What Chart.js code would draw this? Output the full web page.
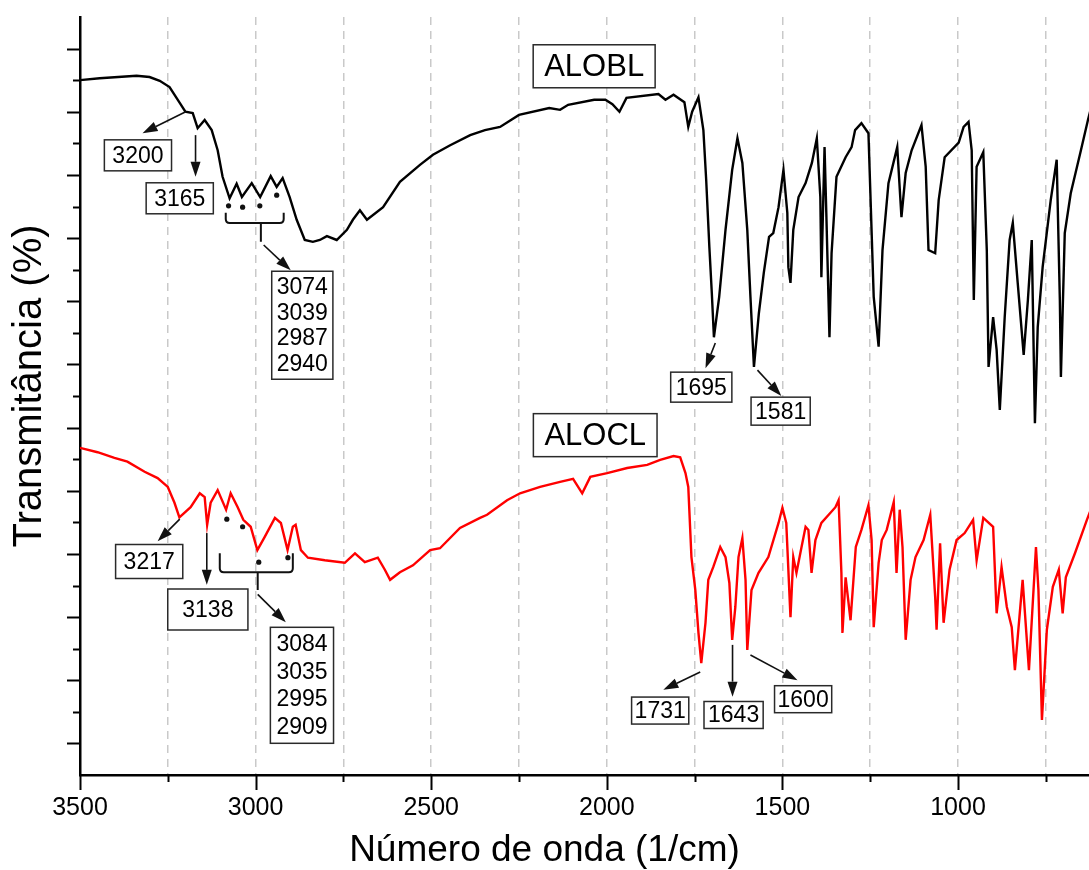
<!DOCTYPE html>
<html>
<head>
<meta charset="utf-8">
<script src="https://cdn.jsdelivr.net/npm/chart.js@4/dist/chart.umd.min.js"></script>
<style>
  html, body { margin: 0; padding: 0; background: #ffffff; }
  #wrap { width: 1089px; height: 870px; position: relative; }
</style>
</head>
<body>
<div id="wrap"><canvas id="c" width="1089" height="870"></canvas></div>
<script>
// ---------------- DATA ----------------
const xTickValues = [3500, 3250, 3000, 2750, 2500, 2250, 2000, 1750, 1500, 1250, 1000, 750];
const xTickLabels = ['3500', '', '3000', '', '2500', '', '2000', '', '1500', '', '1000', ''];
const yTickValues = [5, 10, 15, 20, 25, 30, 35, 40, 45, 50, 55, 60, 65, 70, 75, 80, 85, 90, 95, 100, 105, 110, 115];

// ALOBL (black) spectrum: wavenumber (1/cm) and transmittance (arbitrary offset units)
const aloblWavenumber = [
  3500, 3444, 3339, 3302, 3273, 3245, 3216, 3200, 3179, 3165,
  3145, 3125, 3108, 3094, 3074, 3054, 3039, 3011, 2987, 2957,
  2940, 2923, 2903, 2883, 2860, 2837, 2817, 2797, 2769, 2740,
  2723, 2703, 2683, 2637, 2589, 2532, 2495, 2446, 2389, 2347,
  2304, 2250, 2164, 2133, 2110, 2036, 2004, 1984, 1964, 1944,
  1853, 1833, 1810, 1779, 1768, 1757, 1739, 1725, 1717, 1708,
  1701, 1695, 1680, 1662, 1643, 1628, 1614, 1600, 1591, 1581,
  1567, 1553, 1538, 1526, 1511, 1497, 1486, 1483, 1477, 1469,
  1454, 1434, 1416, 1402, 1392, 1389, 1380, 1375, 1366, 1360,
  1346, 1320, 1303, 1293, 1275, 1255, 1240, 1226, 1215, 1198,
  1173, 1161, 1149, 1132, 1104, 1092, 1084, 1065, 1055, 1038,
  998, 984, 970, 961, 955, 947, 928, 918, 913, 900,
  890, 881, 867, 853, 844, 830, 813, 801, 790, 781,
  773, 759, 736, 719, 710, 707, 696, 679, 650, 630,
  615
];
const aloblTransmittance = [
  110.0, 110.3, 110.7, 110.5, 109.9, 108.9, 106.4, 105.0, 104.8, 102.4,
  103.7, 102.1, 98.9, 94.7, 91.3, 93.6, 91.5, 93.7, 91.5, 94.8,
  93.1, 94.5, 91.5, 87.9, 84.7, 84.4, 84.7, 85.3, 84.7, 86.3,
  87.9, 89.4, 87.9, 89.9, 93.9, 96.6, 98.2, 99.7, 101.3, 102.1,
  102.6, 104.5, 105.6, 105.3, 106.1, 106.9, 106.9, 106.2, 105.0, 107.2,
  107.8, 106.9, 107.7, 106.5, 102.6, 105.0, 107.3, 102.1, 94.2, 83.6,
  76.3, 69.3, 75.7, 86.3, 95.8, 100.8, 96.9, 86.3, 75.7, 64.6,
  73.1, 79.5, 85.2, 85.8, 89.9, 95.8, 89.0, 80.4, 77.9, 86.3,
  91.5, 93.7, 96.9, 100.8, 91.5, 78.8, 99.4, 89.0, 69.3, 82.6,
  94.7, 97.8, 99.4, 102.1, 103.2, 101.6, 75.7, 67.8, 83.1, 93.7,
  99.4, 88.3, 95.3, 98.9, 102.9, 96.3, 83.1, 82.6, 91.0, 97.8,
  100.1, 102.6, 103.4, 98.9, 75.2, 96.3, 98.6, 83.1, 64.6, 72.5,
  67.3, 57.8, 72.5, 84.7, 87.4, 77.9, 66.5, 75.2, 84.7, 55.7,
  70.9, 80.4, 91.0, 97.4, 75.2, 63.0, 85.8, 92.1, 98.9, 103.7,
  107.0
];

// ALOCL (red) spectrum
const aloclWavenumber = [
  3500, 3450, 3402, 3365, 3316, 3279, 3250, 3231, 3217, 3185,
  3159, 3145, 3138, 3128, 3108, 3084, 3071, 3051, 3035, 3014,
  2995, 2974, 2945, 2928, 2909, 2894, 2886, 2871, 2851, 2803,
  2746, 2717, 2689, 2652, 2632, 2617, 2589, 2552, 2503, 2475,
  2418, 2361, 2341, 2284, 2247, 2190, 2133, 2096, 2070, 2047,
  1999, 1942, 1885, 1848, 1810, 1791, 1776, 1768, 1759, 1748,
  1739, 1731, 1719, 1711, 1697, 1677, 1662, 1651, 1643, 1634,
  1625, 1614, 1605, 1600, 1588, 1568, 1540, 1511, 1500, 1489,
  1477, 1469, 1460, 1449, 1434, 1426, 1417, 1406, 1389, 1349,
  1340, 1332, 1329, 1320, 1306, 1291, 1275, 1255, 1246, 1240,
  1226, 1217, 1203, 1183, 1175, 1166, 1158, 1149, 1135, 1121,
  1098, 1079, 1065, 1061, 1051, 1041, 1024, 1004, 981, 957,
  947, 928, 900, 890, 876, 861, 847, 838, 816, 798,
  778, 771, 761, 747, 730, 713, 702, 693, 667, 633,
  615
];
const aloclTransmittance = [
  51.8, 51.1, 50.2, 49.6, 48.0, 47.0, 45.6, 43.1, 40.8, 42.4,
  44.6, 44.0, 39.6, 43.1, 45.1, 42.0, 44.6, 42.4, 40.4, 39.3,
  35.6, 37.7, 40.7, 39.9, 35.6, 39.3, 39.6, 35.6, 34.4, 34.0,
  33.6, 35.1, 33.7, 34.4, 32.5, 30.9, 32.1, 33.2, 35.6, 35.9,
  39.1, 40.7, 41.2, 43.5, 44.6, 45.6, 46.4, 46.9, 44.6, 47.2,
  47.8, 48.6, 49.1, 49.9, 50.5, 50.3, 47.8, 45.6, 34.5, 29.3,
  22.5, 17.7, 24.1, 30.9, 32.9, 36.1, 34.5, 30.4, 21.4, 26.6,
  34.5, 37.5, 30.9, 19.8, 29.3, 32.0, 34.5, 39.9, 42.3, 39.9,
  25.0, 34.5, 32.0, 35.1, 39.3, 38.8, 32.0, 37.2, 39.9, 42.4,
  43.5, 32.0, 22.5, 31.3, 24.5, 36.1, 38.8, 42.7, 37.2, 23.4,
  33.6, 37.2, 38.8, 43.2, 32.0, 42.0, 36.1, 21.4, 30.9, 34.5,
  37.2, 41.2, 28.2, 23.0, 36.7, 24.1, 32.5, 37.2, 38.3, 40.4,
  34.0, 40.7, 39.3, 25.6, 32.9, 26.6, 23.4, 16.6, 30.9, 16.6,
  36.1, 29.3, 8.7, 23.0, 29.8, 32.5, 25.6, 31.3, 35.1, 40.4,
  43.0
];

// Peak labels (text) and their anchor positions in data units
const noteTexts = [
  ['ALOBL'], ['ALOCL'],
  ['3200'], ['3165'], ['3074', '3039', '2987', '2940'], ['1695'], ['1581'],
  ['3217'], ['3138'], ['3084', '3035', '2995', '2909'], ['1731'], ['1643'], ['1600']
];
const noteWavenumber = [2036, 2033, 3335, 3216, 2867, 1731, 1505, 3303, 3136, 2868, 1848, 1639, 1441];
const noteTransmittance = [112.2, 53.8, 98.1, 91.3, 71.2, 61.4, 57.6, 33.8, 26.2, 14.2, 10.2, 9.5, 12.0];

// Arrows: from (wn, T) to (wn, T)
const arrowFromWavenumber = [3199, 3171, 2977, 1691, 1571, 3216, 3139, 2994, 1734, 1642, 1591];
const arrowFromTransmittance = [105.0, 101.3, 83.9, 68.4, 64.1, 40.5, 38.3, 28.6, 16.3, 20.6, 19.0];
const arrowToWavenumber = [3322, 3171, 2900, 1719, 1503, 3279, 3139, 2914, 1839, 1642, 1457];
const arrowToTransmittance = [101.6, 94.7, 79.9, 64.4, 60.0, 37.0, 30.1, 24.2, 13.5, 12.4, 15.0];

// Marker dots under the grouped C-H bands
const dotWavenumber = [3077, 3037, 2988, 2940, 3082, 3037, 2991, 2908];
const dotTransmittance = [90.1, 89.9, 90.1, 91.8, 40.5, 39.3, 33.7, 34.4];

// Braces grouping the bands: left, right, stem wavenumber; top, bottom, stem-end transmittance
const braceLeft = [3085, 3102];
const braceRight = [2920, 2894];
const braceStem = [2985, 2994];
const braceTop = [89.0, 35.1];
const braceBottom = [87.4, 32.1];
const braceStemEnd = [84.4, 29.3];

// ---------------- STYLE ----------------
const FONT = "'Liberation Sans', Arial, Helvetica, sans-serif";
Chart.defaults.font.family = FONT;
Chart.defaults.color = '#000';

const noteStyle = [
  {size: 31, padX: 11, padY: 6, lh: 31},
  {size: 31, padX: 11, padY: 6, lh: 31},
  {size: 23, padX: 8, padY: 2.5, lh: 26},
  {size: 23, padX: 8, padY: 2.5, lh: 26},
  {size: 23, padX: 5, padY: 3, lh: 25.5},
  {size: 23, padX: 5, padY: 2, lh: 26},
  {size: 23, padX: 4, padY: 1, lh: 26},
  {size: 23, padX: 8, padY: 4, lh: 26},
  {size: 23, padX: 14.5, padY: 7.5, lh: 26},
  {size: 23, padX: 6, padY: 3, lh: 27.5},
  {size: 23, padX: 3, padY: 0.5, lh: 26},
  {size: 23, padX: 4, padY: 0.5, lh: 26},
  {size: 23, padX: 3, padY: 0.5, lh: 26}
];

const annotationPlugin = {
  id: 'ftirAnnotations',
  afterDatasetsDraw(chart) {
    const ctx = chart.ctx;
    const xs = chart.scales.x, ys = chart.scales.y;
    const X = v => xs.getPixelForValue(v);
    const Y = v => ys.getPixelForValue(v);
    ctx.save();

    // boxes with text
    noteTexts.forEach((lines, i) => {
      const st = noteStyle[i];
      ctx.font = st.size + 'px ' + FONT;
      const w = Math.max(...lines.map(l => ctx.measureText(l).width)) + 2 * st.padX;
      const h = lines.length * st.lh + 2 * st.padY;
      const cx = X(noteWavenumber[i]), cy = Y(noteTransmittance[i]);
      const x0 = cx - w / 2, y0 = cy - h / 2;
      ctx.fillStyle = '#fff';
      ctx.fillRect(x0, y0, w, h);
      ctx.strokeStyle = '#2a2a2a';
      ctx.lineWidth = 1.5;
      ctx.strokeRect(x0, y0, w, h);
      ctx.fillStyle = '#000';
      ctx.textAlign = 'center';
      ctx.textBaseline = 'middle';
      lines.forEach((l, k) => {
        ctx.fillText(l, cx, y0 + st.padY + st.lh * (k + 0.5) + 1);
      });
    });

    // arrows
    ctx.strokeStyle = '#111';
    ctx.fillStyle = '#111';
    ctx.lineWidth = 1.6;
    arrowFromWavenumber.forEach((wn, i) => {
      const x1 = X(wn), y1 = Y(arrowFromTransmittance[i]);
      const x2 = X(arrowToWavenumber[i]), y2 = Y(arrowToTransmittance[i]);
      const ang = Math.atan2(y2 - y1, x2 - x1);
      const L = 15, W = 5;
      const bx = x2 - L * Math.cos(ang), by = y2 - L * Math.sin(ang);
      ctx.beginPath();
      ctx.moveTo(x1, y1);
      ctx.lineTo(bx, by);
      ctx.stroke();
      ctx.beginPath();
      ctx.moveTo(x2, y2);
      ctx.lineTo(bx + W * Math.sin(ang), by - W * Math.cos(ang));
      ctx.lineTo(bx - W * Math.sin(ang), by + W * Math.cos(ang));
      ctx.closePath();
      ctx.fill();
    });

    // dots
    dotWavenumber.forEach((wn, i) => {
      ctx.beginPath();
      ctx.arc(X(wn), Y(dotTransmittance[i]), 2.6, 0, Math.PI * 2);
      ctx.fill();
    });

    // braces
    ctx.lineWidth = 2;
    braceLeft.forEach((l, i) => {
      const xl = X(l), xr = X(braceRight[i]), xm = X(braceStem[i]);
      const yt = Y(braceTop[i]), yb = Y(braceBottom[i]), ye = Y(braceStemEnd[i]);
      const r = 4;
      ctx.beginPath();
      ctx.moveTo(xl, yt);
      ctx.lineTo(xl, yb - r);
      ctx.quadraticCurveTo(xl, yb, xl + r, yb);
      ctx.lineTo(xr - r, yb);
      ctx.quadraticCurveTo(xr, yb, xr, yb - r);
      ctx.lineTo(xr, yt);
      ctx.moveTo(xm, yb);
      ctx.lineTo(xm, ye);
      ctx.stroke();
    });

    ctx.restore();
  }
};

const tickPlugin = {
  id: 'axisTicks',
  afterDraw(chart) {
    const ctx = chart.ctx;
    const xs = chart.scales.x, ys = chart.scales.y;
    const area = chart.chartArea;
    ctx.save();
    ctx.strokeStyle = '#000';
    ctx.lineWidth = 2;
    xTickValues.forEach((v, i) => {
      const px = Math.round(xs.getPixelForValue(v)) + 0.5;
      const len = xTickLabels[i] ? 15 : 7;
      ctx.beginPath();
      ctx.moveTo(px, area.bottom);
      ctx.lineTo(px, area.bottom + len);
      ctx.stroke();
    });
    yTickValues.forEach(v => {
      const py = Math.round(ys.getPixelForValue(v)) + 0.5;
      const len = (v % 10 === 5) ? 13 : 7;
      ctx.beginPath();
      ctx.moveTo(area.left, py);
      ctx.lineTo(area.left - len, py);
      ctx.stroke();
    });
    ctx.restore();
  }
};

const toPoints = (xsArr, ysArr) => xsArr.map((x, i) => ({x: x, y: ysArr[i]}));

new Chart(document.getElementById('c'), {
  type: 'line',
  data: {
    datasets: [
      {
        label: 'ALOBL',
        data: toPoints(aloblWavenumber, aloblTransmittance),
        borderColor: '#000000',
        borderWidth: 2.4,
        pointRadius: 0,
        tension: 0,
        fill: false
      },
      {
        label: 'ALOCL',
        data: toPoints(aloclWavenumber, aloclTransmittance),
        borderColor: '#ff0000',
        borderWidth: 2.4,
        pointRadius: 0,
        tension: 0,
        fill: false
      }
    ]
  },
  options: {
    responsive: false,
    animation: false,
    devicePixelRatio: 1,
    layout: { padding: { top: 17, right: 0, bottom: 0, left: 0 } },
    plugins: {
      legend: { display: false },
      tooltip: { enabled: false },
      title: {
        display: true,
        position: 'bottom',
        text: 'Número de onda (1/cm)',
        color: '#000',
        font: { size: 37, weight: 'normal', lineHeight: 1 },
        padding: { top: 0, bottom: 1 }
      }
    },
    scales: {
      x: {
        type: 'linear',
        reverse: true,
        min: 627,
        max: 3500,
        afterBuildTicks(scale) {
          scale.ticks = xTickValues.map(v => ({ value: v }));
        },
        afterFit(scale) { scale.height = 57; },
        ticks: {
          autoSkip: false,
          maxRotation: 0,
          padding: 3,
          color: '#000',
          font: { size: 25 },
          callback(value) {
            const i = xTickValues.indexOf(value);
            return i >= 0 ? xTickLabels[i] : '';
          }
        },
        grid: {
          display: true,
          drawTicks: true,
          tickLength: 15,
          tickColor: 'rgba(0,0,0,0)',
          lineWidth: 1.5,
          color: ctx => (ctx.tick && ctx.tick.value === 3500) ? 'rgba(0,0,0,0)' : '#c9c9c9'
        },
        border: { display: true, color: '#000', width: 2.5, dash: [8, 6] },
        title: { display: false }
      },
      y: {
        type: 'linear',
        min: 0,
        max: 120,
        afterFit(scale) { scale.width = 80; },
        ticks: { display: false },
        grid: { display: false, drawTicks: false },
        border: { display: true, color: '#000', width: 2.5 },
        title: {
          display: true,
          text: '\u2002Transmitância (%)',
          color: '#000',
          font: { size: 40, lineHeight: 1.2 },
          padding: { top: 6, bottom: 0 }
        }
      }
    }
  },
  plugins: [annotationPlugin, tickPlugin]
});
</script>
</body>
</html>
